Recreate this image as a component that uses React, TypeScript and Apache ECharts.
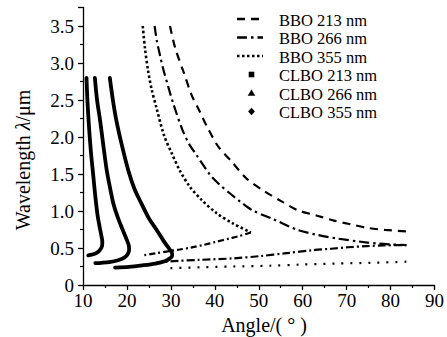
import React, { useEffect, useRef } from 'react';
import * as echarts from 'echarts';

const FONT = '"Liberation Serif", "Times New Roman", serif';

const legendNames = ['BBO 213 nm', 'BBO 266 nm', 'BBO 355 nm', 'CLBO 213 nm', 'CLBO 266 nm', 'CLBO 355 nm'];

// BBO 213 nm
const bbo213Angle = [29.8, 31.0, 33.0, 34.7, 36.6, 38.4, 40.8, 43.8, 47.2, 51.2, 55.2, 58.9, 63.1, 67.1, 70.9, 74.9, 78.7, 83.6];
const bbo213Wave = [3.5, 3.2, 2.86, 2.57, 2.34, 2.12, 1.87, 1.67, 1.44, 1.27, 1.13, 1.01, 0.94, 0.87, 0.82, 0.77, 0.745, 0.725];
const bbo213LowAngle = [29.9, 36.6, 44.0, 52.5, 59.3, 67.6, 75.5, 83.6];
const bbo213LowWave = [0.228, 0.238, 0.25, 0.26, 0.275, 0.29, 0.3, 0.315];

// BBO 266 nm
const bbo266Angle = [26.3, 26.8, 27.5, 28.3, 29.4, 30.5, 32.6, 34.3, 35.8, 38.9, 41.2, 43.4, 45.7, 48.5, 53.3, 58.6, 63.1, 67.7, 72.5, 77.0, 80.5, 83.6];
const bbo266Wave = [3.5, 3.3, 3.11, 2.91, 2.68, 2.46, 2.1, 1.89, 1.76, 1.49, 1.35, 1.24, 1.13, 1.01, 0.89, 0.75, 0.68, 0.63, 0.59, 0.56, 0.548, 0.54];
const bbo266LowAngle = [26.3, 29.8, 36.6, 44.2, 50.2, 56.3, 62.3, 66.5, 70.3, 74.5, 78.5, 83.6];
const bbo266LowWave = [0.295, 0.32, 0.34, 0.36, 0.39, 0.43, 0.47, 0.49, 0.51, 0.525, 0.535, 0.54];

// BBO 355 nm
const bbo355Angle = [23.6, 24.1, 24.8, 25.6, 26.7, 28.4, 30.2, 32.0, 34.3, 37.0, 40.4, 44.2, 48.2];
const bbo355Wave = [3.5, 3.2, 2.9, 2.65, 2.4, 2.03, 1.78, 1.55, 1.33, 1.15, 0.97, 0.83, 0.71];
const bbo355LowAngle = [48.2, 45.5, 43.4, 40.0, 37.3, 34.5, 32.0, 29.3, 26.7, 23.6];
const bbo355LowWave = [0.71, 0.66, 0.63, 0.58, 0.54, 0.505, 0.48, 0.455, 0.43, 0.4];

// CLBO
const clbo213Angle = [16.1, 16.8, 17.6, 18.8, 20.3, 21.7, 23.3, 25.0, 26.7, 28.3, 29.5, 30.2, 30.3, 29.8, 28.6, 26.5, 23.5, 20.5, 17.3];
const clbo213Wave = [2.8, 2.5, 2.22, 1.9, 1.55, 1.3, 1.1, 0.9, 0.75, 0.6, 0.5, 0.44, 0.4, 0.36, 0.32, 0.29, 0.265, 0.245, 0.235];
const clbo266Angle = [12.7, 13.2, 13.9, 14.6, 15.4, 16.2, 17.0, 18.0, 19.0, 19.9, 20.4, 20.5, 20.2, 19.4, 18.0, 16.0, 14.2, 12.8];
const clbo266Wave = [2.8, 2.5, 2.22, 1.9, 1.55, 1.3, 1.08, 0.9, 0.75, 0.62, 0.54, 0.48, 0.42, 0.37, 0.335, 0.31, 0.3, 0.295];
const clbo355Angle = [10.8, 11.0, 11.35, 11.8, 12.3, 12.8, 13.3, 13.8, 14.2, 14.4, 14.3, 13.8, 13.0, 12.0, 11.2];
const clbo355Wave = [2.8, 2.5, 2.15, 1.8, 1.5, 1.2, 0.95, 0.78, 0.66, 0.58, 0.52, 0.47, 0.43, 0.41, 0.4];

const zip = (a: number[], b: number[]) => a.map((v, i) => [v, b[i]]);

export default function App() {
  const ref = useRef<HTMLDivElement>(null);
  useEffect(() => {
    if (!ref.current) return;
    const chart = echarts.init(ref.current, null, { renderer: 'svg' });

    const lineDefs = [
      { name: legendNames[0], a: bbo213Angle, w: bbo213Wave, dash: [8, 6], width: 2.2 },
      { name: legendNames[0] + ' (s)', a: bbo213LowAngle, w: bbo213LowWave, dash: [2, 7], width: 2.2 },
      { name: legendNames[1], a: bbo266Angle, w: bbo266Wave, dash: [10, 4, 2.5, 4], width: 2.2 },
      { name: legendNames[1] + ' (s)', a: bbo266LowAngle, w: bbo266LowWave, dash: [8, 3, 2, 3], width: 2.2 },
      { name: legendNames[2], a: bbo355Angle, w: bbo355Wave, dash: [2.5, 2.5], width: 2.6 },
      { name: legendNames[2] + ' (s)', a: bbo355LowAngle, w: bbo355LowWave, dash: [6, 3, 2, 3], width: 2.2 },
      { name: legendNames[3], a: clbo213Angle, w: clbo213Wave, dash: 'solid', width: 3.8 },
      { name: legendNames[4], a: clbo266Angle, w: clbo266Wave, dash: 'solid', width: 3.8 },
      { name: legendNames[5], a: clbo355Angle, w: clbo355Wave, dash: 'solid', width: 3.8 },
    ];

    const series = lineDefs.map((d) => ({
      type: 'line',
      name: d.name,
      data: zip(d.a, d.w),
      showSymbol: false,
      symbol: 'none',
      smooth: 0.3,
      lineStyle: { color: '#000', width: d.width, type: d.dash as any, cap: d.dash === 'solid' ? 'round' : 'butt' },
      silent: true,
    }));

    const rowY0 = 19;
    const rowGap = 18.5;
    const sampleX1 = 237;
    const sampleX2 = 263;
    const markX = 251.5;
    const textX = 279;
    const legendGraphics: any[] = [];
    const dashes = [[8, 6], [10, 4, 2.5, 4], [2.5, 2.5]];
    legendNames.forEach((n, i) => {
      const y = rowY0 + i * rowGap;
      if (i < 3) {
        legendGraphics.push({
          type: 'line',
          shape: { x1: sampleX1, y1: y, x2: sampleX2, y2: y },
          style: { stroke: '#000', lineWidth: 2.4, lineDash: dashes[i] },
        });
      } else if (i === 3) {
        legendGraphics.push({ type: 'rect', shape: { x: markX - 2.8, y: y - 2.8, width: 5.6, height: 5.6 }, style: { fill: '#000' } });
      } else if (i === 4) {
        legendGraphics.push({ type: 'polygon', shape: { points: [[markX, y - 3.6], [markX + 3.8, y + 2.8], [markX - 3.8, y + 2.8]] }, style: { fill: '#000' } });
      } else {
        legendGraphics.push({ type: 'polygon', shape: { points: [[markX, y - 3.8], [markX + 3.4, y], [markX, y + 3.8], [markX - 3.4, y]] }, style: { fill: '#000' } });
      }
      legendGraphics.push({
        type: 'text',
        x: textX,
        y: y + 1,
        style: { text: n, fontFamily: FONT, fontSize: 16.5, fill: '#000', align: 'left', verticalAlign: 'middle' },
      });
    });

    chart.setOption({
      animation: false,
      grid: { left: 83, right: 12, top: 7.5, bottom: 52, containLabel: false },
      xAxis: {
        type: 'value',
        min: 10,
        max: 90,
        interval: 10,
        axisLine: { show: true, lineStyle: { color: '#000', width: 1.3 } },
        axisTick: { show: true, inside: false, length: 5, lineStyle: { color: '#000', width: 1.3 } },
        minorTick: { show: true, splitNumber: 2, length: 3, lineStyle: { color: '#000', width: 1.2 } },
        splitLine: { show: false },
        axisLabel: { color: '#000', fontFamily: FONT, fontSize: 19, margin: 6 },
      },
      yAxis: {
        type: 'value',
        min: 0,
        max: 3.75,
        interval: 0.5,
        axisLine: { show: true, lineStyle: { color: '#000', width: 1.3 } },
        axisTick: { show: true, inside: false, length: 5, lineStyle: { color: '#000', width: 1.3 } },
        minorTick: { show: true, splitNumber: 2, length: 3, lineStyle: { color: '#000', width: 1.2 } },
        splitLine: { show: false },
        axisLabel: {
          color: '#000',
          fontFamily: FONT,
          fontSize: 19,
          margin: 9,
          formatter: (v: number) => {
            if (Math.abs(v * 2 - Math.round(v * 2)) > 1e-6) return '';
            return v === 0 ? '0' : v.toFixed(1);
          },
        },
      },
      series,
      graphic: [
        ...legendGraphics,
        {
          type: 'text',
          x: 264,
          y: 325,
          style: { text: 'Angle/( ° )', fontFamily: FONT, fontSize: 20, fill: '#000', align: 'center', verticalAlign: 'middle' },
        },
        {
          type: 'text',
          x: 23,
          y: 160,
          rotation: Math.PI / 2,
          style: {
            text: 'Wavelength {i|λ}/μm',
            fontFamily: FONT,
            fontSize: 20,
            fill: '#000',
            align: 'center',
            verticalAlign: 'middle',
            rich: { i: { fontStyle: 'italic', fontFamily: FONT, fontSize: 20, fill: '#000' } },
          },
        },
      ],
    });
    return () => chart.dispose();
  }, []);
  return <div ref={ref} style={{ position: 'fixed', left: 0, top: 0, width: 447, height: 337, background: '#fff' }} />;
}
